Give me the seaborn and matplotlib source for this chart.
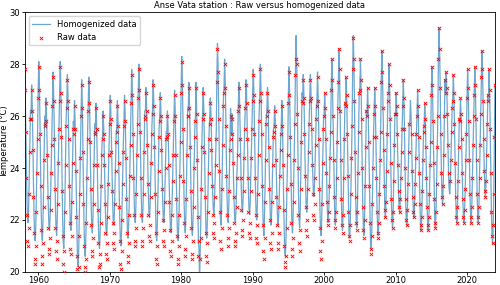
import matplotlib
matplotlib.use("Agg")
import matplotlib.pyplot as plt
import matplotlib.dates as mdates
import numpy as np
import pandas as pd
import seaborn as sns

# Monthly mean temperature (deg C), Feb 1958 -> Dec 2023
homog_1958_59 = [
    28.0, 27.3, 25.9, 24.3, 23.0, 22.1, 21.9, 22.5, 23.6, 25.0, 26.2,
    26.1, 27.2, 26.5, 25.2, 23.6, 22.3, 21.4, 21.2, 21.8, 22.9, 24.2, 25.4,
]
homog_1960s = [
    26.9, 28.1, 27.3, 25.8, 24.0, 22.4, 21.5, 21.2, 21.9, 23.1, 24.7, 26.0,
    25.8, 26.7, 26.1, 25.0, 23.6, 22.5, 21.8, 21.6, 22.1, 23.0, 24.2, 25.2,
    26.6, 27.7, 26.9, 25.6, 23.9, 22.5, 21.7, 21.4, 22.0, 23.2, 24.6, 25.8,
    26.8, 28.1, 27.2, 25.7, 23.8, 22.2, 21.2, 20.9, 21.6, 22.9, 24.5, 25.9,
    26.5, 27.6, 26.9, 25.6, 24.0, 22.7, 21.8, 21.6, 22.2, 23.3, 24.6, 25.8,
    25.5, 26.6, 25.8, 24.4, 22.8, 21.4, 20.5, 20.2, 20.8, 22.0, 23.4, 24.7,
    26.2, 27.4, 26.6, 25.1, 23.3, 21.8, 20.9, 20.6, 21.3, 22.5, 24.0, 25.4,
    26.4, 27.5, 26.8, 25.5, 23.9, 22.6, 21.7, 21.5, 22.1, 23.2, 24.5, 25.7,
    25.5, 26.5, 25.8, 24.6, 23.1, 21.9, 21.1, 20.9, 21.5, 22.5, 23.7, 24.8,
    25.3, 26.2, 25.6, 24.6, 23.3, 22.3, 21.6, 21.4, 21.9, 22.7, 23.8, 24.8,
]
homog_1970s = [
    25.9, 26.8, 26.2, 25.1, 23.8, 22.7, 22.0, 21.8, 22.3, 23.2, 24.3, 25.3,
    25.6, 26.6, 25.9, 24.7, 23.2, 22.0, 21.2, 21.0, 21.6, 22.6, 23.8, 24.9,
    25.8, 26.8, 26.1, 24.9, 23.5, 22.3, 21.5, 21.3, 21.9, 22.8, 24.1, 25.2,
    26.7, 27.8, 27.1, 25.8, 24.3, 23.0, 22.1, 21.9, 22.5, 23.6, 24.9, 26.0,
    26.9, 28.0, 27.3, 25.9, 24.3, 23.0, 22.1, 21.9, 22.5, 23.6, 25.0, 26.2,
    26.2, 27.1, 26.5, 25.4, 24.1, 23.0, 22.3, 22.1, 22.6, 23.5, 24.6, 25.6,
    26.3, 27.4, 26.7, 25.3, 23.7, 22.3, 21.4, 21.2, 21.8, 22.9, 24.3, 25.5,
    26.0, 26.9, 26.3, 25.2, 23.9, 22.8, 22.1, 21.9, 22.4, 23.3, 24.4, 25.4,
    25.4, 26.2, 25.6, 24.6, 23.4, 22.4, 21.7, 21.5, 22.0, 22.8, 23.9, 24.8,
    26.0, 27.0, 26.3, 25.0, 23.5, 22.2, 21.4, 21.2, 21.8, 22.8, 24.1, 25.3,
]
homog_1980s = [
    27.1, 28.3, 27.5, 26.0, 24.2, 22.7, 21.8, 21.5, 22.2, 23.4, 24.9, 26.3,
    26.2, 27.3, 26.6, 25.3, 23.8, 22.5, 21.6, 21.4, 22.0, 23.1, 24.4, 25.5,
    26.0, 27.3, 26.4, 24.8, 22.8, 21.2, 20.9, 19.6, 20.8, 21.9, 23.6, 25.1,
    26.1, 27.1, 26.4, 25.1, 23.6, 22.3, 21.5, 21.3, 21.9, 22.9, 24.2, 25.4,
    25.9, 26.7, 26.2, 25.2, 24.0, 23.0, 22.4, 22.2, 22.7, 23.5, 24.5, 25.4,
    27.5, 28.8, 28.0, 26.4, 24.6, 23.1, 22.1, 21.8, 22.5, 23.8, 25.3, 26.7,
    27.1, 28.2, 27.4, 26.1, 24.4, 23.0, 22.2, 21.9, 22.5, 23.7, 25.1, 26.3,
    25.3, 26.1, 25.6, 24.7, 23.6, 22.7, 22.1, 21.9, 22.3, 23.1, 24.0, 24.8,
    26.4, 27.3, 26.7, 25.6, 24.3, 23.2, 22.5, 22.3, 22.8, 23.7, 24.8, 25.8,
    26.5, 27.4, 26.8, 25.6, 24.3, 23.1, 22.4, 22.2, 22.7, 23.7, 24.8, 25.8,
]
homog_1990s = [
    26.8, 27.8, 27.1, 25.8, 24.3, 23.0, 22.2, 22.0, 22.6, 23.6, 24.9, 26.1,
    26.8, 28.0, 27.2, 25.8, 24.0, 22.6, 21.7, 21.4, 22.1, 23.3, 24.7, 26.0,
    26.2, 27.1, 26.5, 25.3, 23.9, 22.8, 22.0, 21.8, 22.3, 23.3, 24.5, 25.5,
    25.6, 26.4, 25.9, 24.8, 23.6, 22.6, 22.0, 21.8, 22.3, 23.1, 24.1, 25.0,
    25.5, 26.6, 25.9, 24.6, 23.0, 21.7, 20.8, 20.6, 21.2, 22.3, 23.6, 24.8,
    26.7, 27.9, 27.1, 25.7, 24.1, 22.7, 21.8, 21.5, 22.1, 23.3, 24.7, 26.0,
    27.8, 29.1, 28.2, 26.6, 24.7, 23.0, 22.0, 21.7, 22.4, 23.8, 25.4, 26.9,
    26.7, 27.6, 27.0, 25.8, 24.4, 23.3, 22.5, 22.3, 22.8, 23.8, 25.0, 26.0,
    26.8, 27.6, 27.0, 26.0, 24.8, 23.8, 23.1, 22.9, 23.4, 24.2, 25.3, 26.2,
    26.6, 27.7, 26.9, 25.6, 23.9, 22.5, 21.7, 21.4, 22.0, 23.2, 24.6, 25.8,
]
homog_2000s = [
    26.0, 26.9, 26.3, 25.2, 23.9, 22.8, 22.1, 21.9, 22.4, 23.3, 24.4, 25.4,
    27.0, 28.2, 27.4, 26.0, 24.4, 23.0, 22.1, 21.8, 22.4, 23.6, 25.0, 26.3,
    27.3, 28.6, 27.8, 26.2, 24.4, 22.9, 21.9, 21.6, 22.3, 23.6, 25.1, 26.5,
    26.4, 27.5, 26.8, 25.4, 23.8, 22.4, 21.5, 21.3, 21.9, 23.0, 24.4, 25.6,
    27.8, 29.1, 28.2, 26.6, 24.7, 23.0, 22.0, 21.7, 22.4, 23.8, 25.4, 26.9,
    27.0, 28.2, 27.4, 25.9, 24.1, 22.6, 21.7, 21.4, 22.1, 23.3, 24.8, 26.2,
    26.0, 27.1, 26.4, 25.0, 23.4, 22.0, 21.1, 20.9, 21.5, 22.6, 24.0, 25.2,
    26.1, 27.1, 26.4, 25.2, 23.7, 22.4, 21.6, 21.4, 22.0, 23.0, 24.3, 25.4,
    27.3, 28.5, 27.7, 26.3, 24.7, 23.3, 22.4, 22.1, 22.7, 23.9, 25.3, 26.6,
    26.9, 28.0, 27.2, 25.9, 24.2, 22.8, 22.0, 21.7, 22.3, 23.5, 24.9, 26.1,
]
homog_2010s = [
    26.1, 26.9, 26.4, 25.3, 24.1, 23.1, 22.5, 22.3, 22.8, 23.6, 24.6, 25.5,
    26.4, 27.4, 26.7, 25.5, 24.0, 22.8, 22.0, 21.8, 22.4, 23.4, 24.6, 25.7,
    25.8, 26.6, 26.1, 25.1, 23.9, 22.9, 22.3, 22.1, 22.6, 23.4, 24.4, 25.3,
    26.0, 27.0, 26.4, 25.2, 23.8, 22.6, 21.8, 21.6, 22.1, 23.1, 24.3, 25.4,
    25.6, 26.5, 25.9, 24.8, 23.6, 22.5, 21.8, 21.6, 22.1, 23.0, 24.1, 25.0,
    26.8, 27.9, 27.2, 25.8, 24.2, 22.8, 21.9, 21.7, 22.3, 23.4, 24.8, 26.0,
    28.2, 29.4, 28.6, 27.1, 25.3, 23.8, 22.9, 22.6, 23.3, 24.5, 26.0, 27.4,
    26.9, 27.7, 27.1, 26.1, 24.9, 23.8, 23.2, 23.0, 23.5, 24.3, 25.4, 26.3,
    26.6, 27.6, 26.9, 25.7, 24.2, 22.9, 22.1, 21.9, 22.5, 23.5, 24.8, 25.9,
    25.8, 26.7, 26.1, 25.1, 23.8, 22.8, 22.1, 21.9, 22.4, 23.2, 24.3, 25.3,
]
homog_2020s = [
    26.7, 27.8, 27.1, 25.8, 24.3, 23.0, 22.1, 21.9, 22.5, 23.6, 24.9, 26.0,
    26.8, 27.9, 27.2, 25.9, 24.3, 23.0, 22.1, 21.9, 22.5, 23.6, 24.9, 26.1,
    27.5, 28.5, 27.8, 26.6, 25.1, 23.9, 23.1, 22.9, 23.5, 24.5, 25.7, 26.8,
    26.6, 27.8, 27.0, 25.5, 23.8, 22.3, 21.4, 21.1, 21.8, 23.0, 25.2, 27.2,
]

raw_1958_59 = [
    27.8, 27.0, 25.4, 23.6, 22.2, 21.2, 21.0, 21.7, 23.0, 24.6, 25.9,
    25.9, 27.0, 26.2, 24.7, 22.9, 21.5, 20.5, 20.3, 21.0, 22.3, 23.8, 25.1,
]
raw_1960s = [
    26.7, 27.9, 27.0, 25.3, 23.3, 21.6, 20.6, 20.3, 21.1, 22.5, 24.3, 25.7,
    25.6, 26.5, 25.8, 24.5, 22.9, 21.7, 20.9, 20.7, 21.3, 22.4, 23.8, 24.9,
    26.4, 27.5, 26.6, 25.1, 23.2, 21.7, 20.8, 20.5, 21.2, 22.6, 24.2, 25.5,
    26.6, 27.9, 26.9, 25.2, 23.1, 21.4, 20.3, 20.0, 20.8, 22.3, 24.1, 25.6,
    26.3, 27.4, 26.6, 25.1, 23.3, 21.9, 20.9, 20.7, 21.4, 22.7, 24.2, 25.5,
    25.3, 26.4, 25.5, 23.9, 22.1, 20.6, 20.1, 19.9, 20.2, 21.4, 23.0, 24.4,
    26.0, 27.2, 26.3, 24.6, 22.6, 21.0, 20.2, 20.0, 20.5, 21.9, 23.6, 25.1,
    26.2, 27.3, 26.5, 25.0, 23.2, 21.8, 20.8, 20.6, 21.3, 22.6, 24.1, 25.4,
    25.3, 26.3, 25.5, 24.1, 22.4, 21.1, 20.2, 20.3, 20.7, 21.9, 23.3, 24.5,
    25.1, 26.0, 25.3, 24.1, 22.6, 21.5, 20.7, 20.5, 21.1, 22.1, 23.4, 24.5,
]
raw_1970s = [
    25.7, 26.6, 25.9, 24.6, 23.1, 21.9, 21.1, 20.9, 21.5, 22.6, 23.9, 25.0,
    25.4, 26.4, 25.6, 24.2, 22.5, 21.2, 20.3, 20.1, 20.8, 22.0, 23.4, 24.6,
    25.6, 26.6, 25.8, 24.4, 22.8, 21.5, 20.6, 20.4, 21.1, 22.2, 23.7, 24.9,
    26.5, 27.6, 26.8, 25.3, 23.6, 22.2, 21.2, 21.0, 21.7, 23.0, 24.5, 25.7,
    26.7, 27.8, 27.0, 25.4, 23.6, 22.2, 21.2, 21.0, 21.7, 23.0, 24.6, 25.9,
    26.0, 26.9, 26.2, 24.9, 23.4, 22.2, 21.4, 21.2, 21.8, 22.9, 24.2, 25.3,
    26.1, 27.2, 26.4, 24.8, 23.0, 21.5, 20.5, 20.3, 21.0, 22.3, 23.9, 25.2,
    25.8, 26.7, 26.0, 24.7, 23.2, 22.0, 21.2, 21.0, 21.6, 22.7, 24.0, 25.1,
    25.2, 26.0, 25.3, 24.1, 22.7, 21.6, 20.8, 20.6, 21.2, 22.2, 23.5, 24.5,
    25.8, 26.8, 26.0, 24.5, 22.8, 21.4, 20.5, 20.3, 21.0, 22.2, 23.7, 25.0,
]
raw_1980s = [
    26.9, 28.1, 27.2, 25.5, 23.5, 21.9, 20.9, 20.6, 21.4, 22.8, 24.5, 26.0,
    26.0, 27.1, 26.3, 24.8, 23.1, 21.7, 20.7, 20.5, 21.2, 22.5, 24.0, 25.2,
    25.8, 27.1, 26.1, 24.3, 22.1, 20.6, 21.2, None, 20.5, 21.3, 23.2, 24.8,
    25.9, 26.9, 26.1, 24.6, 22.9, 21.5, 20.6, 20.4, 21.1, 22.3, 23.8, 25.1,
    25.7, 26.5, 25.9, 24.7, 23.3, 22.2, 21.5, 21.3, 21.9, 22.9, 24.1, 25.1,
    27.3, 28.6, 27.7, 25.9, 23.9, 22.3, 21.2, 20.9, 21.7, 23.2, 24.9, 26.4,
    26.9, 28.0, 27.1, 25.6, 23.7, 22.2, 21.3, 21.0, 21.7, 23.1, 24.7, 26.0,
    25.1, 25.9, 25.3, 24.2, 22.9, 21.9, 21.2, 21.0, 21.5, 22.5, 23.6, 24.5,
    26.2, 27.1, 26.4, 25.1, 23.6, 22.4, 21.6, 21.4, 22.0, 23.1, 24.4, 25.5,
    26.3, 27.2, 26.5, 25.1, 23.6, 22.3, 21.5, 21.3, 21.9, 23.1, 24.4, 25.5,
]
raw_1990s = [
    26.6, 27.6, 26.8, 25.3, 23.6, 22.2, 21.3, 21.1, 21.8, 23.0, 24.5, 25.8,
    26.6, 27.8, 26.9, 25.3, 23.3, 21.8, 20.8, 20.5, 21.3, 22.7, 24.3, 25.7,
    26.0, 26.9, 26.2, 24.8, 23.2, 22.0, 21.1, 20.9, 21.5, 22.7, 24.1, 25.2,
    25.4, 26.2, 25.6, 24.3, 22.9, 21.8, 21.1, 20.9, 21.5, 22.5, 23.7, 24.7,
    25.3, 26.4, 25.6, 24.1, 22.4, 21.0, 20.2, 20.4, 20.6, 21.7, 23.2, 24.5,
    26.5, 27.7, 26.8, 25.2, 23.4, 21.9, 20.9, 20.6, 21.3, 22.7, 24.3, 25.7,
    27.6, 28.2, 28.0, 26.1, 24.0, 22.2, 21.1, 20.8, 21.6, 23.2, 25.0, 26.6,
    26.5, 27.4, 26.7, 25.3, 23.7, 22.5, 21.6, 21.4, 22.0, 23.2, 24.6, 25.7,
    26.6, 27.4, 26.7, 25.5, 24.1, 23.0, 22.2, 22.0, 22.6, 23.6, 24.9, 25.9,
    26.4, 27.5, 26.6, 25.1, 23.2, 21.7, 20.8, 20.5, 21.2, 22.6, 24.2, 25.5,
]
raw_2000s = [
    26.0, 26.9, 26.3, 25.1, 23.8, 22.7, 22.0, 21.8, 22.3, 23.3, 24.4, 25.4,
    27.0, 28.2, 27.4, 26.0, 24.3, 22.9, 22.0, 21.7, 22.3, 23.6, 25.0, 26.3,
    27.3, 28.6, 27.8, 26.2, 24.3, 22.8, 21.8, 21.5, 22.2, 23.6, 25.1, 26.5,
    26.4, 27.5, 26.8, 25.3, 23.7, 22.3, 21.4, 21.2, 21.8, 23.0, 24.4, 25.6,
    27.8, 29.0, 28.2, 26.6, 24.6, 22.9, 21.9, 21.6, 22.3, 23.8, 25.4, 26.9,
    27.0, 28.2, 27.4, 25.9, 24.0, 22.5, 21.6, 21.3, 22.0, 23.3, 24.8, 26.2,
    26.0, 27.1, 26.4, 25.0, 23.3, 21.9, 20.9, 20.7, 21.4, 22.6, 24.0, 25.2,
    26.1, 27.1, 26.4, 25.2, 23.6, 22.3, 21.5, 21.3, 21.9, 23.0, 24.3, 25.4,
    27.3, 28.5, 27.7, 26.3, 24.7, 23.3, 22.4, 22.1, 22.7, 23.9, 25.3, 26.6,
    26.9, 28.0, 27.2, 25.9, 24.2, 22.8, 22.0, 21.7, 22.3, 23.5, 24.9, 26.1,
]
raw_2010s = [
    26.1, 26.9, 26.4, 25.3, 24.1, 23.1, 22.5, 22.3, 22.8, 23.6, 24.6, 25.5,
    26.4, 27.4, 26.7, 25.5, 24.0, 22.8, 22.0, 21.8, 22.4, 23.4, 24.6, 25.7,
    None, None, None, 25.3, 23.9, 22.9, 22.3, 22.1, 22.6, 23.4, 24.4, 25.3,
    26.0, 27.0, 26.4, 25.2, 23.8, 22.6, 21.8, 21.6, 22.1, 23.1, 24.3, 25.4,
    25.6, 26.5, 25.9, 24.8, 23.6, 22.5, 21.8, 21.6, 22.1, 23.0, 24.1, 25.0,
    26.8, 27.9, 27.2, 25.8, 24.2, 22.8, 21.9, 21.7, 22.3, 23.4, 24.8, 26.0,
    28.2, 29.4, 28.6, 27.1, 25.3, 23.8, 22.9, 22.6, 23.3, 24.5, 26.0, 27.4,
    26.9, 27.7, 27.1, 26.1, 24.9, 23.8, None, None, 23.5, 24.3, 25.4, 26.3,
    26.6, 27.6, 26.9, 25.7, 24.2, 22.9, 22.1, 21.9, 22.5, 23.5, 24.8, 25.9,
    25.8, 26.7, 26.1, 25.1, 23.8, 22.8, 22.1, 21.9, 22.4, 23.2, 24.3, 25.3,
]
raw_2020s = [
    26.7, 27.8, 27.1, 25.8, 24.3, 23.0, 22.1, 21.9, 22.5, 23.6, 24.9, 26.0,
    26.8, 27.9, 27.2, 25.9, 24.3, 23.0, 22.1, 21.9, 22.5, 23.6, 24.9, 26.1,
    27.5, 28.5, 27.8, 26.6, 25.1, 23.9, 23.1, 22.9, 23.5, 24.5, 25.7, 26.8,
    26.6, 27.8, 27.0, 25.5, 23.8, 22.3, 21.4, 21.1, 21.8, 23.0, 25.2, 27.2,
]

homog = (homog_1958_59 + homog_1960s + homog_1970s + homog_1980s
         + homog_1990s + homog_2000s + homog_2010s + homog_2020s)
raw = (raw_1958_59 + raw_1960s + raw_1970s + raw_1980s
       + raw_1990s + raw_2000s + raw_2010s + raw_2020s)

dates = pd.date_range("1958-02-01", "2023-12-01", freq="MS")
df = pd.DataFrame({"date": dates,
                   "homog": homog,
                   "raw": [np.nan if v is None else v for v in raw]})

plt.rcParams["font.family"] = ["DejaVu Sans"]
fig, ax = plt.subplots(figsize=(5, 2.85), dpi=100)

sns.lineplot(data=df, x="date", y="homog", ax=ax, color="#1f77b4",
             alpha=0.65, linewidth=0.9, label="Homogenized data")
sns.scatterplot(data=df, x="date", y="raw", ax=ax, marker="x", color="red",
                s=6, linewidth=0.6, label="Raw data", zorder=3)

ax.set_ylim(20, 30)
ax.set_xlim(df["date"].min(), df["date"].max())
ax.xaxis.set_major_locator(mdates.YearLocator(10))
ax.xaxis.set_major_formatter(mdates.DateFormatter("%Y"))
ax.tick_params(labelsize=6, length=2, width=0.6, pad=1)
for s in ax.spines.values():
    s.set_linewidth(0.6)

ax.set_title("Anse Vata station : Raw versus homogenized data", fontsize=6, pad=3)
ax.set_ylabel("Temperature (°C)", fontsize=6)
ax.yaxis.set_label_coords(-0.032, 0.5)
ax.set_xlabel("")
ax.legend(loc="upper left", fontsize=6, borderpad=0.4, handlelength=2.2)

fig.subplots_adjust(left=0.049, right=0.99, bottom=0.046, top=0.957)
fig.savefig("out.png", dpi=100)
